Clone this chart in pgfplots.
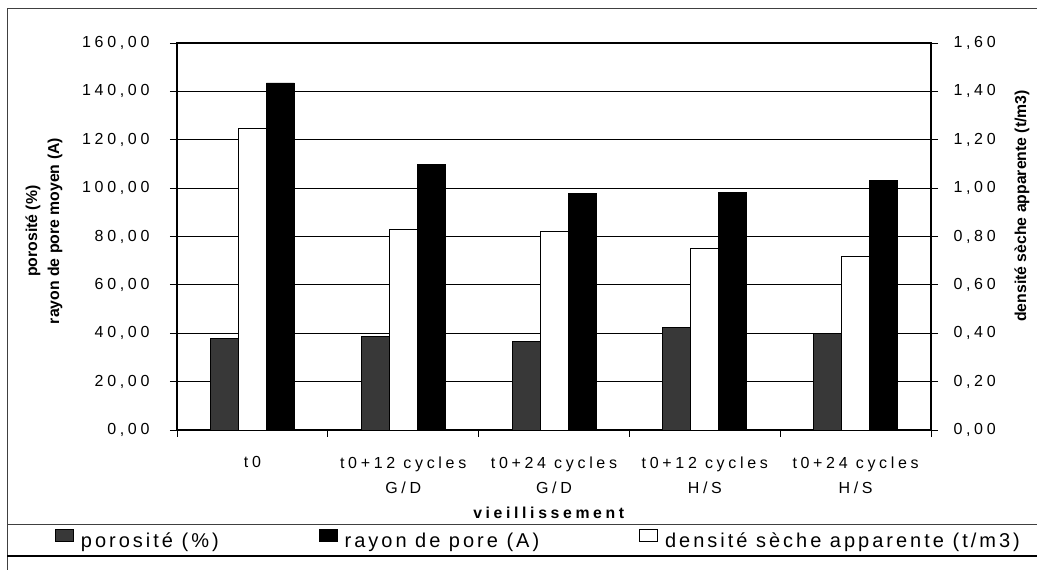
\documentclass[border=0pt]{standalone}
\usepackage{fontspec}
\setmainfont{Liberation Sans}
\newfontfamily\spfont[LetterSpace=23]{Liberation Sans}
\newfontfamily\lgfont[LetterSpace=15]{Liberation Sans}
\usepackage{pgfplots}
\pgfplotsset{compat=1.18}
\definecolor{porgray}{gray}{0.22}

\begin{document}
\begin{tikzpicture}
\path[use as bounding box] (0pt,0pt) rectangle (1037pt,570pt);
% outer frame
\draw[line width=0.8pt, black!75] (1037pt,562pt) -- (7pt,562pt) -- (7pt,0pt);
\draw[line width=0.8pt, black!75] (7pt,46pt) -- (1037pt,46pt);
\draw[line width=1.2pt] (7pt,14pt) -- (1037pt,14pt);

\begin{axis}[
  at={(177pt,140pt)}, anchor=south west,
  width=754pt, height=387pt, scale only axis,
  xmin=-0.5, xmax=4.5, ymin=0, ymax=160,
  axis line style={line width=1.2pt, black},
  tick align=outside, tick pos=left,
  major tick length=7pt,
  tick style={line width=0.8pt, black},
  ytick={0,20,40,60,80,100,120,140,160},
  yticklabels={{0,00},{20,00},{40,00},{60,00},{80,00},{100,00},{120,00},{140,00},{160,00}},
  yticklabel style={font=\spfont\fontsize{16}{19}\selectfont, xshift=-17pt},
  xtick={-0.5,0.5,1.5,2.5,3.5,4.5},
  xticklabels={},
  extra x ticks={0,1,2,3,4},
  extra x tick labels={t0,{t0+12 cycles\\G/D},{t0+24 cycles\\G/D},{t0+12 cycles\\H/S},{t0+24 cycles\\H/S}},
  extra x tick style={major tick length=0pt, grid=none,
     xticklabel style={align=center, anchor=north, yshift=-23pt, font=\spfont\fontsize{16}{25}\selectfont}},
  ymajorgrids,
  major grid style={line width=0.8pt, black},
  xlabel={vieillissement},
  xlabel style={at={(axis description cs:0.493,-0.2274)}, anchor=base, font=\spfont\bfseries\fontsize{15.8}{19}\selectfont},
  ylabel={porosité (\%)\\rayon de pore moyen (A)},
  ylabel style={at={(axis description cs:-0.1764,0.514)}, anchor=center, align=center, font=\bfseries\fontsize{15.8}{22}\selectfont},
  legend columns=3,
  legend style={at={(axis description cs:-0.1618,-0.2817)}, anchor=west, draw=none, fill=none, inner sep=0pt,
     font=\lgfont\fontsize{20}{24}\selectfont,
     /tikz/every odd column/.append style={column sep=7pt},
     /tikz/every even column/.append style={column sep=100pt},
     nodes={inner sep=0pt}},
  legend image code/.code={\draw[#1, line width=0.8pt] (0pt,0pt) rectangle (18pt,12pt);},
]
\addplot[ybar, bar width=28pt, bar shift=-28pt, fill=porgray, draw=black, line width=0.8pt]
  coordinates {(0,37.9) (1,38.8) (2,36.5) (3,42.3) (4,40.0)};
\addlegendentry{porosité (\%)}
\addplot[ybar, bar width=28pt, bar shift=28pt, fill=black, draw=black, line width=0.8pt]
  coordinates {(0,143.5) (1,109.9) (2,97.8) (3,98.1) (4,103.3)};
\addlegendentry{rayon de pore (A)}
\addlegendimage{fill=white, draw=black}
\addlegendentry{densité sèche apparente (t/m3)}
\end{axis}

\begin{axis}[
  at={(177pt,140pt)}, anchor=south west,
  width=754pt, height=387pt, scale only axis,
  xmin=-0.5, xmax=4.5, ymin=0, ymax=1.6,
  axis x line=none, axis y line*=right,
  axis line style={line width=1.2pt, black},
  tick align=outside, ytick pos=right,
  major tick length=7pt,
  tick style={line width=0.8pt, black},
  ytick={0,0.2,0.4,0.6,0.8,1.0,1.2,1.4,1.6},
  yticklabels={{0,00},{0,20},{0,40},{0,60},{0,80},{1,00},{1,20},{1,40},{1,60}},
  yticklabel style={font=\spfont\fontsize{16}{19}\selectfont, xshift=12pt},
  ylabel={densité sèche apparente (t/m3)},
  ylabel style={at={(axis description cs:1.1207,0.579)}, anchor=center, font=\bfseries\fontsize{15.8}{19}\selectfont},
]
\addplot[ybar, bar width=28pt, bar shift=0pt, fill=white, draw=black, line width=0.8pt]
  coordinates {(0,1.248) (1,0.829) (2,0.819) (3,0.751) (4,0.716)};
\end{axis}
\end{tikzpicture}
\end{document}
